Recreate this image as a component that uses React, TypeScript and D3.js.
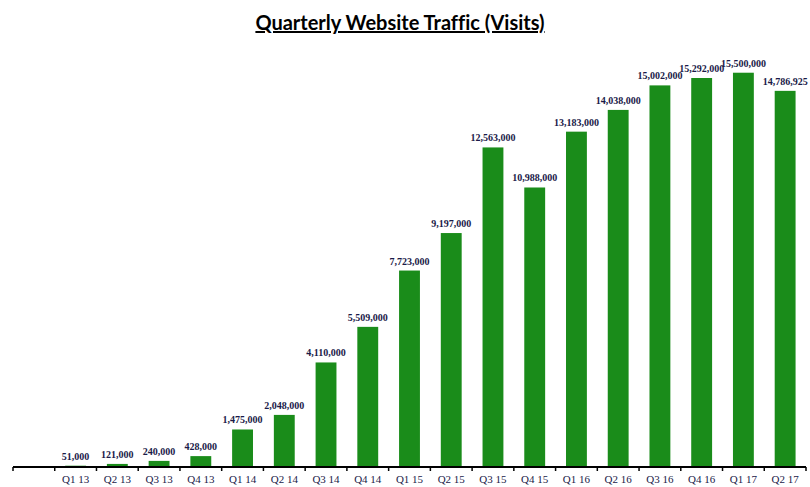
import React from "react";
import * as d3 from "d3";

const categories = ["", "Q1 13", "Q2 13", "Q3 13", "Q4 13", "Q1 14", "Q2 14", "Q3 14", "Q4 14", "Q1 15", "Q2 15", "Q3 15", "Q4 15", "Q1 16", "Q2 16", "Q3 16", "Q4 16", "Q1 17", "Q2 17"];
const visits = [null, 51000, 121000, 240000, 428000, 1475000, 2048000, 4110000, 5509000, 7723000, 9197000, 12563000, 10988000, 13183000, 14038000, 15002000, 15292000, 15500000, 14786925];
const title = "Quarterly Website Traffic (Visits)";

const W = 810, H = 487;
const left = 13, right = 806, baseY = 467, topY = 60;

export default function App() {
  const x = d3.scaleBand<string>().domain(categories).range([left, right]).paddingInner(0).paddingOuter(0);
  const y = d3.scaleLinear().domain([0, 16000000]).range([baseY, topY]);
  const bw = x.bandwidth() * 0.5;
  const fmt = d3.format(",");
  const boundaries = categories.map((c) => x(c)!).concat([right]);
  return (
    <svg width={W} height={H} style={{ position: "absolute", left: 0, top: 0, background: "#fff" }}>
      <text x={400} y={30} textAnchor="middle" fontFamily="Lato, 'Open Sans', sans-serif" fontWeight="bold" fontSize={20} textDecoration="underline" fill="#000" style={{ fontVariantLigatures: "none" }}>{title}</text>
      {categories.map((c, i) => {
        const v = visits[i];
        if (v == null) return null;
        const cx = x(c)! + x.bandwidth() / 2;
        return (
          <g key={c}>
            <rect x={cx - bw / 2} y={y(v)} width={bw} height={baseY - y(v)} fill="#1a8c1a" />
            <text x={cx} y={y(v) - 6} textAnchor="middle" fontFamily="'Liberation Serif', 'Times New Roman', serif" fontWeight="bold" fontSize={10} fill="#1a1a48">{fmt(v)}</text>
            <text x={cx} y={baseY + 16} textAnchor="middle" fontFamily="'Liberation Serif', 'Times New Roman', serif" fontSize={11} fill="#1a1a48">{c}</text>
          </g>
        );
      })}
      <line x1={left} x2={right} y1={baseY} y2={baseY} stroke="#000" strokeWidth={2} />
      {boundaries.map((b, i) => (
        <line key={i} x1={b} x2={b} y1={baseY} y2={baseY + 4} stroke="#000" strokeWidth={1.5} />
      ))}
    </svg>
  );
}
